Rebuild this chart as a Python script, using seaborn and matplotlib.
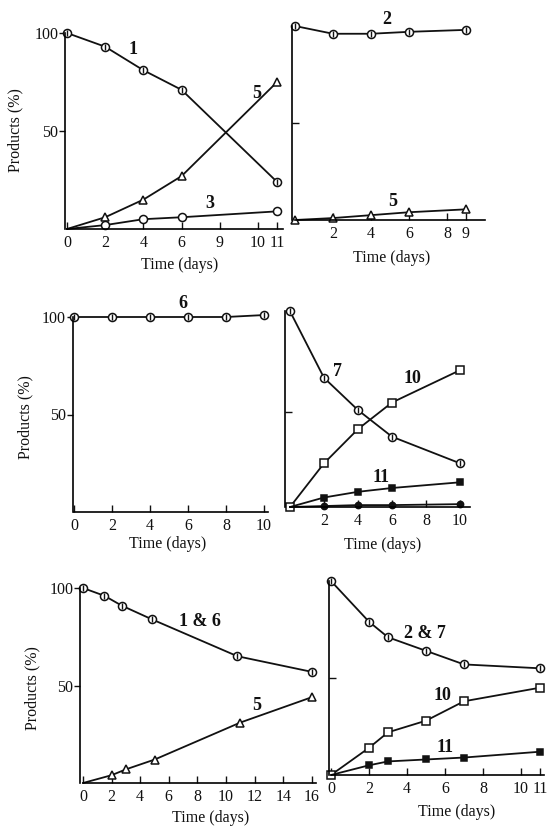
import matplotlib
matplotlib.use("Agg")
import matplotlib.pyplot as plt
import seaborn as sns
import pandas as pd

# ---------------- data ----------------
# Panel 1
p1_days = [0, 2, 4, 6, 11]
p1_s1 = [100, 93, 81, 71, 24]
p1_s5 = [0, 6, 15, 27, 75]
p1_s3 = [0, 2, 5, 6, 9]
p1_xticks = [0, 2, 4, 6, 8, 10, 11]
p1_xticklabels = ["0", "2", "4", "6", "9", "10", "11"]

# Panel 2
p2_days = [0, 2, 4, 6, 9]
p2_s2 = [100, 96, 96, 97, 98]
p2_s5 = [0, 1, 2.5, 4, 5.5]
p2_xticks = [2, 4, 6, 8, 9]
p2_xticklabels = ["2", "4", "6", "8", "9"]

# Panel 3
p3_days = [0, 2, 4, 6, 8, 10]
p3_s6 = [100, 100, 100, 100, 100, 101]
p3_xticks = [0, 2, 4, 6, 8, 10]
p3_xticklabels = ["0", "2", "4", "6", "8", "10"]

# Panel 4
p4_days = [0, 2, 4, 6, 10]
p4_s7 = [103, 68, 51, 37, 23]
p4_s10 = [0, 23, 41, 55, 72]
p4_s11 = [0, 5, 8, 10, 13]
p4_sdot = [0, 0.5, 1, 1, 1.5]
p4_xticks = [2, 4, 6, 8, 10]
p4_xticklabels = ["2", "4", "6", "8", "10"]

# Panel 5
p5_days_a = [0, 1.5, 2.7, 4.8, 10.8, 16]
p5_s16 = [100, 96, 91, 84, 65, 57]
p5_days_b = [0, 2, 3, 5, 11, 16]
p5_s5 = [0, 4, 7, 12, 31, 44]
p5_xticks = [0, 2, 4, 6, 8, 10, 12, 14, 16]
p5_xticklabels = ["0", "2", "4", "6", "8", "10", "12", "14", "16"]

# Panel 6
p6_days = [0, 2, 3, 5, 7, 11]
p6_s27 = [100, 79, 71, 64, 57, 55]
p6_s10 = [0, 14, 22, 28, 38, 45]
p6_s11 = [0, 5, 7, 8, 9, 12]
p6_xticks = [0, 2, 4, 6, 8, 10, 11]
p6_xticklabels = ["0", "2", "4", "6", "8", "10", "11"]

yticks_labeled = [50, 100]
yticklabels_labeled = ["50", "100"]

# ---------------- style ----------------
sns.set_theme(style="white")
plt.rcParams["font.family"] = ["Liberation Serif", "DejaVu Serif"]
plt.rcParams["axes.linewidth"] = 1.2
plt.rcParams["axes.edgecolor"] = "black"

W, H = 552, 827
fig = plt.figure(figsize=(W / 100, H / 100), dpi=100)
fig.patch.set_facecolor("white")

INK = "#111111"
TICKFS = 11.5
LABFS = 11.5
NUMFS = 13


def make_ax(x0, xs, xlim, y0, ys, ylim):
    left = x0 + xlim[0] * xs
    right = x0 + xlim[1] * xs
    bottom = y0 - ylim[0] * ys
    top = y0 - ylim[1] * ys
    ax = fig.add_axes([left / W, 1 - bottom / H, (right - left) / W, (bottom - top) / H])
    ax.set_xlim(*xlim)
    ax.set_ylim(*ylim)
    ax.set_facecolor("none")
    for s in ("top", "right"):
        ax.spines[s].set_visible(False)
    ax.spines["bottom"].set_bounds(0, xlim[1])
    ax._box = (left, right, top, bottom)
    return ax


def px_to_axes(ax, px, py):
    left, right, top, bottom = ax._box
    return (px - left) / (right - left), (bottom - py) / (bottom - top)


def series(ax, x, y, marker, filled=False, bar=False, skip_first=False, ms=5.8):
    df = pd.DataFrame({"x": x, "y": y})
    sns.lineplot(data=df, x="x", y="y", ax=ax, color=INK, lw=1.3, sort=False,
                 estimator=None, legend=False)
    dm = df.iloc[1:] if skip_first else df
    sns.lineplot(data=dm, x="x", y="y", ax=ax, color=INK, linestyle="none",
                 marker=marker, markersize=ms, markeredgewidth=1.1,
                 markeredgecolor=INK, markerfacecolor=INK if filled else "white",
                 sort=False, estimator=None, legend=False)
    for ln in ax.lines:
        ln.set_clip_on(False)
    if bar:
        sc = sns.scatterplot(data=dm, x="x", y="y", ax=ax, marker="|",
                             s=(ms - 0.8) ** 2, color=INK, linewidth=1.0,
                             legend=False, zorder=5)
        for c in ax.collections:
            c.set_clip_on(False)


def finish(ax, xticks, xlabels, labeled_y, xlab_px, ylab_px=None):
    ax.set_xticks(xticks)
    ax.set_xticklabels(xlabels, fontsize=TICKFS)
    ax.tick_params(axis="x", direction="in", length=5, width=1.0, pad=4,
                   bottom=True, colors=INK)
    if labeled_y:
        ax.set_yticks(yticks_labeled)
        ax.set_yticklabels(yticklabels_labeled, fontsize=TICKFS)
        ax.tick_params(axis="y", direction="out", length=4, width=1.0, pad=1,
                       left=True, colors=INK)
    else:
        ax.set_yticks([50])
        ax.set_yticklabels([""])
        ax.tick_params(axis="y", direction="in", length=5, width=1.0,
                       left=True, colors=INK)
    ax.set_xlabel("Time (days)", fontsize=LABFS, color=INK)
    ax.xaxis.set_label_coords(*px_to_axes(ax, *xlab_px))
    ax.xaxis.label.set_va("center")
    if ylab_px is not None:
        ax.set_ylabel("Products (%)", fontsize=LABFS, color=INK)
        ax.yaxis.set_label_coords(*px_to_axes(ax, *ylab_px))
        ax.yaxis.label.set_va("center")
    else:
        ax.set_ylabel("")


def num(ax, px, py, s):
    fx, fy = px_to_axes(ax, px, py)
    ax.text(fx, fy, s, transform=ax.transAxes, fontsize=NUMFS, fontweight="bold",
            ha="center", va="center", color=INK)


# ---------------- Panel 1 ----------------
ax1 = make_ax(67, 19.1, (-0.1, 11.3), 229, 1.96, (0, 105))
ax1.spines["left"].set_bounds(0, 100)
series(ax1, p1_days, p1_s1, "o", bar=True)
series(ax1, p1_days, p1_s5, "^", skip_first=True)
series(ax1, p1_days, p1_s3, "o", skip_first=True)
finish(ax1, p1_xticks, p1_xticklabels, True, (180, 265), (15, 130))
num(ax1, 133, 49, "1")
num(ax1, 257, 93, "5")
num(ax1, 210, 203, "3")

# ---------------- Panel 2 ----------------
ax2 = make_ax(295, 19.0, (-0.15, 10.0), 220, 1.94, (0, 105))
ax2.spines["left"].set_bounds(0, 100)
series(ax2, p2_days, p2_s2, "o", bar=True)
series(ax2, p2_days, p2_s5, "^")
finish(ax2, p2_xticks, p2_xticklabels, False, (392, 258))
num(ax2, 387, 20, "2")
num(ax2, 393, 202, "5")

# ---------------- Panel 3 ----------------
ax3 = make_ax(74, 19.0, (-0.05, 10.2), 512, 1.95, (0, 105))
ax3.spines["left"].set_bounds(0, 100)
series(ax3, p3_days, p3_s6, "o", bar=True)
finish(ax3, p3_xticks, p3_xticklabels, True, (168, 544), (25, 417))
num(ax3, 183, 303, "6")

# ---------------- Panel 4 ----------------
ax4 = make_ax(290, 17.0, (-0.3, 10.6), 507, 1.9, (0, 108))
ax4.spines["left"].set_bounds(0, 103)
series(ax4, p4_days, p4_s7, "o", bar=True)
series(ax4, p4_days, p4_s10, "s")
series(ax4, p4_days, p4_s11, "s", filled=True, skip_first=True, ms=5)
series(ax4, p4_days, p4_sdot, "o", filled=True, skip_first=True, ms=4.5)
finish(ax4, p4_xticks, p4_xticklabels, False, (383, 545))
num(ax4, 337, 372, "7")
num(ax4, 412, 378, "10")
num(ax4, 381, 477, "11")

# ---------------- Panel 5 ----------------
ax5 = make_ax(83, 14.3, (-0.2, 16.3), 783, 1.95, (0, 105))
ax5.spines["left"].set_bounds(0, 100)
series(ax5, p5_days_a, p5_s16, "o", bar=True)
series(ax5, p5_days_b, p5_s5, "^", skip_first=True)
finish(ax5, p5_xticks, p5_xticklabels, True, (211, 818), (32, 688))
num(ax5, 200, 622, "1 & 6")
num(ax5, 257, 705, "5")

# ---------------- Panel 6 ----------------
ax6 = make_ax(331, 19.0, (-0.1, 11.2), 775, 1.94, (0, 105))
ax6.spines["left"].set_bounds(0, 100)
series(ax6, p6_days, p6_s27, "o", bar=True)
series(ax6, p6_days, p6_s10, "s")
series(ax6, p6_days, p6_s11, "s", filled=True, skip_first=True, ms=5)
finish(ax6, p6_xticks, p6_xticklabels, False, (457, 812))
num(ax6, 425, 633, "2 & 7")
num(ax6, 442, 695, "10")
num(ax6, 445, 747, "11")

fig.savefig("out.png", dpi=100, facecolor="white")
